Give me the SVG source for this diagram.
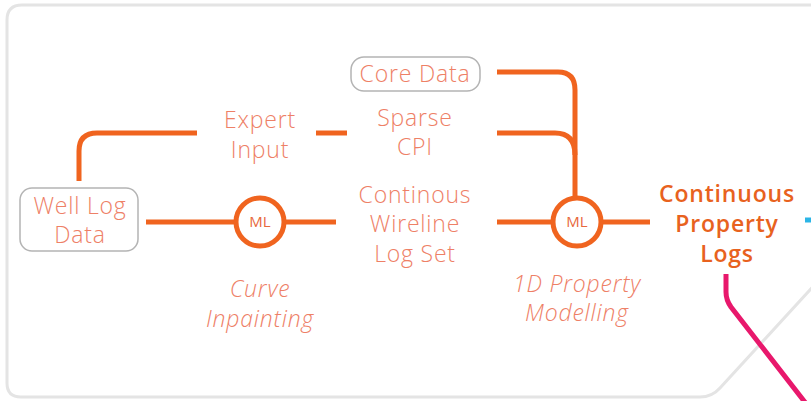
<svg xmlns="http://www.w3.org/2000/svg" width="811" height="401" viewBox="0 0 811 401">
  <style>
    .panel { fill: #ffffff; stroke: #e4e4e4; stroke-width: 3; }
    .wire { fill: none; stroke: #f0641f; stroke-width: 5; stroke-linecap: butt; }
    .box { fill: #ffffff; stroke: #b4b4b4; stroke-width: 1.5; }
    .ml { fill: #ffffff; stroke: #f0641f; stroke-width: 5; }
    .lbl { font-family: "Open Sans", "Lato", sans-serif; font-weight: 300; font-size: 23px; letter-spacing: 0.8px; fill: #ee8066; text-anchor: middle; }
    .ital { font-style: italic; }
    .mltxt { font-family: "Open Sans", "Lato", sans-serif; font-size: 15px; fill: #e8683c; text-anchor: middle; }
    .out { font-family: "Open Sans", "Lato", sans-serif; font-weight: 600; font-size: 23px; letter-spacing: 0.8px; fill: #e8621e; text-anchor: middle; }
  </style>

  <rect width="811" height="401" fill="#ffffff"/>
  <!-- background panel with a chamfered lower-right corner -->
  <path class="panel" d="M830 5 H22 Q7 5 7 20 V383 Q7 397 21 397 H700 Q712 397 720 388 L830 268"/>

  <g id="connectors">
    <!-- Core Data and Sparse CPI feed the modelling node -->
    <path class="wire" d="M497 72 H558 Q575 72 575 90 V198"/>
    <path class="wire" d="M497 133 H555 Q575 133 575 155"/>
    <!-- Expert Input link -->
    <path class="wire" d="M316 133 H347"/>
    <path class="wire" d="M197 133 H97 Q79 133 79 151 V181"/>
    <!-- main chain -->
    <path class="wire" d="M146 222 H236"/>
    <path class="wire" d="M284 222 H336"/>
    <path class="wire" d="M497 222 H553"/>
    <path class="wire" d="M601 222 H650"/>
    <!-- outgoing links -->
    <path d="M805 220 H811" stroke="#2bb5e6" stroke-width="5" fill="none"/>
    <path d="M726 274 V292 Q726 300 731 307 L811 410" stroke="#e8186c" stroke-width="5" fill="none"/>
  </g>

  <g id="core-data">
    <rect class="box" x="351" y="57" width="129" height="34" rx="13"/>
    <text class="lbl" x="415" y="82">Core Data</text>
  </g>

  <g id="sparse-cpi">
    <text class="lbl" x="415" y="126">Sparse</text>
    <text class="lbl" x="415" y="155">CPI</text>
  </g>

  <g id="expert-input">
    <text class="lbl" x="260" y="128">Expert</text>
    <text class="lbl" x="260" y="158">Input</text>
  </g>

  <g id="well-log-data">
    <rect class="box" x="20" y="188" width="118" height="63" rx="12"/>
    <text class="lbl" x="80" y="214">Well Log</text>
    <text class="lbl" x="80" y="243">Data</text>
  </g>

  <g id="ml-inpainting">
    <circle class="ml" cx="260" cy="222" r="24"/>
    <text class="mltxt" x="260" y="227">ML</text>
  </g>

  <g id="wireline-log-set">
    <text class="lbl" x="415" y="203">Continous</text>
    <text class="lbl" x="415" y="232">Wireline</text>
    <text class="lbl" x="415" y="262">Log Set</text>
  </g>

  <g id="ml-property">
    <circle class="ml" cx="577" cy="222" r="24"/>
    <text class="mltxt" x="577" y="227">ML</text>
  </g>

  <g id="property-logs">
    <text class="out" x="727" y="202">Continuous</text>
    <text class="out" x="727" y="232">Property</text>
    <text class="out" x="727" y="262">Logs</text>
  </g>

  <g id="curve-inpainting">
    <text class="lbl ital" x="260" y="297">Curve</text>
    <text class="lbl ital" x="260" y="327">Inpainting</text>
  </g>

  <g id="property-modelling">
    <text class="lbl ital" x="577" y="292">1D Property</text>
    <text class="lbl ital" x="577" y="321">Modelling</text>
  </g>
</svg>
